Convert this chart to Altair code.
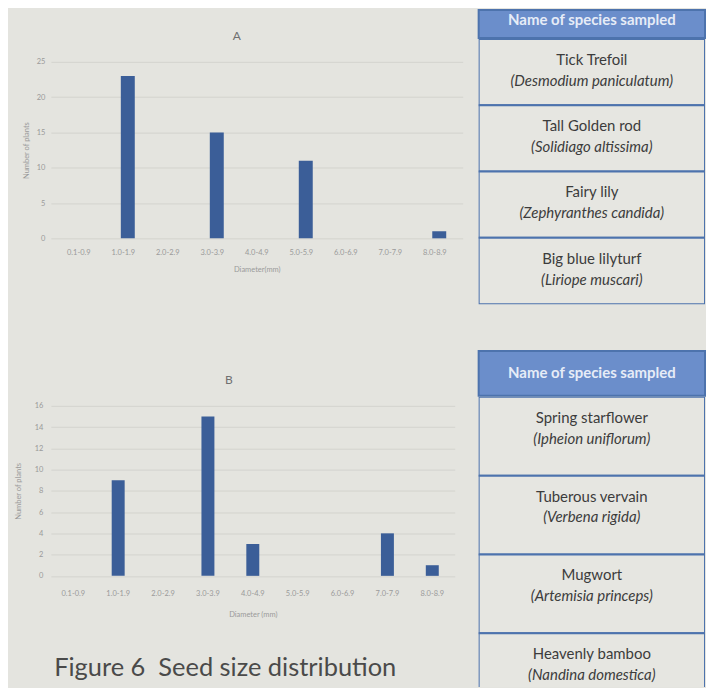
import altair as alt
import pandas as pd

# ---------------- data ----------------
bins = ["0.1-0.9", "1.0-1.9", "2.0-2.9", "3.0-3.9", "4.0-4.9",
        "5.0-5.9", "6.0-6.9", "7.0-7.9", "8.0-8.9"]
counts_a = [0, 23, 0, 15, 0, 11, 0, 0, 1]
counts_b = [0, 9, 0, 15, 3, 0, 0, 4, 1]
yticks_a = [0, 5, 10, 15, 20, 25]
yticks_b = [0, 2, 4, 6, 8, 10, 12, 14, 16]
title_a = "A"
title_b = "B"
xtitle_a = "Diameter(mm)"
xtitle_b = "Diameter (mm)"
ytitle = "Number of plants"
header = "Name of species sampled"
common_a = ["Tick Trefoil", "Tall Golden rod", "Fairy lily", "Big blue lilyturf"]
sci_a = ["(Desmodium paniculatum)", "(Solidiago altissima)",
         "(Zephyranthes candida)", "(Liriope muscari)"]
common_b = ["Spring starflower", "Tuberous vervain", "Mugwort", "Heavenly bamboo"]
sci_b = ["(Ipheion uniflorum)", "(Verbena rigida)",
         "(Artemisia princeps)", "(Nandina domestica)"]
caption = "Figure 6\u00a0 Seed size distribution"

# ---------------- style ----------------
BG = "#e4e4df"
BAR = "#3b5e98"
HEAD = "#6b8ecb"
BORDER = "#4d73ad"
CELL = "#e6e6e1"
AXIS_TXT = "#9a9a9a"
GRID = "#d3d3ce"
TITLE_C = "#707070"
FONT = "Lato"
TW = 227


def bar_chart(counts, yticks, title, xtitle, width, height, pad_outer,
              bar_size, bar_shift, y_lab_pad, y_title_pad, x_lab_pad, x_title_pad):
    df = pd.DataFrame({"bin": bins, "count": counts})
    ch = alt.Chart(df).mark_bar(color=BAR, size=bar_size, xOffset=bar_shift).encode(
        x=alt.X("bin:N", sort=bins,
                scale=alt.Scale(paddingInner=0, paddingOuter=pad_outer),
                axis=alt.Axis(title=xtitle, labelAngle=0, labelFontSize=7.5,
                              labelColor=AXIS_TXT, labelPadding=x_lab_pad,
                              domain=False, ticks=False, grid=False,
                              titleFontSize=7.5, titleColor=AXIS_TXT,
                              titleFontWeight="normal", titlePadding=x_title_pad,
                              labelFont=FONT, titleFont=FONT)),
        y=alt.Y("count:Q",
                scale=alt.Scale(domain=[yticks[0], yticks[-1]], nice=False),
                axis=alt.Axis(title=ytitle, values=yticks, labelFontSize=7.5,
                              labelColor=AXIS_TXT, labelPadding=y_lab_pad,
                              domain=False, ticks=False, grid=True,
                              gridColor=GRID, gridWidth=1,
                              titleFontSize=7.5, titleColor=AXIS_TXT,
                              titleFontWeight="normal", titlePadding=y_title_pad,
                              labelFont=FONT, titleFont=FONT)),
    ).properties(width=width, height=height)
    if title:
        ch = ch.properties(title=alt.TitleParams(
            title, fontSize=12, color=TITLE_C, fontWeight="normal", font=FONT,
            offset=15, dx=-24))
    return ch


# title "A" as its own small text panel, so the left column starts at its top
title_a_panel = alt.Chart(pd.DataFrame({"t": [title_a]})).mark_text(
    fontSize=12, color=TITLE_C, font=FONT, dx=-20, dy=6
).encode(text="t:N").properties(width=413, height=40)

chart_a = bar_chart(counts_a, yticks_a, None, xtitle_a, 413, 177, 0.128,
                    14, 4.5, 6, 6, 10, 10)
chart_b = bar_chart(counts_b, yticks_b, title_b, xtitle_b, 405, 170.5, 0.0,
                    13, 0, 8, 12, 14, 13.5)

left = alt.vconcat(
    alt.vconcat(title_a_panel, chart_a, spacing=8),
    chart_b, spacing=101,
    title=alt.TitleParams(caption, orient="bottom", anchor="start",
                          fontSize=25.5, color="#4a4a4a", fontWeight="normal",
                          font=FONT, offset=38, dx=40),
)


def table_header(h, dy):
    df = pd.DataFrame({"label": [header]})
    base = alt.Chart(df)
    rect = base.mark_rect(fill=HEAD, stroke=BORDER, strokeWidth=2).encode(
        y=alt.Y("label:N", axis=None))
    txt = base.mark_text(color="#e6ecf7", fontSize=15, fontWeight="bold",
                         font=FONT, dy=dy).encode(
        y=alt.Y("label:N", axis=None), text="label:N")
    return alt.layer(rect, txt).properties(width=TW, height=h)


def table_body(common, sci, height, rows_visible):
    df = pd.DataFrame({"row": list(range(len(common))), "common": common, "sci": sci})
    base = alt.Chart(df).transform_calculate(row_end="datum.row + 1")
    ys = alt.Scale(domain=[0, rows_visible], reverse=True, nice=False, zero=False)
    rect = base.mark_rect(fill=CELL, stroke=BORDER, strokeWidth=2, clip=True).encode(
        y=alt.Y("row:Q", scale=ys, axis=None), y2="row_end:Q")
    t1 = base.mark_text(color="#3c3c3c", fontSize=15, font=FONT, dy=21,
                        baseline="middle", clip=True).encode(
        y=alt.Y("row:Q", scale=ys, axis=None), text="common:N")
    t2 = base.mark_text(color="#3c3c3c", fontSize=15, font=FONT, dy=42,
                        fontStyle="italic", baseline="middle", clip=True).encode(
        y=alt.Y("row:Q", scale=ys, axis=None), text="sci:N")
    return alt.layer(rect, t1, t2).properties(width=TW, height=height)


table_a = alt.vconcat(table_header(28, -4), table_body(common_a, sci_a, 266, 4), spacing=0)
table_b = alt.vconcat(table_header(45, 0), table_body(common_b, sci_b, 291, 291 / 79), spacing=0)
right = alt.vconcat(table_a, table_b, spacing=46)

chart = alt.hconcat(left, right, spacing=15).properties(
    background=BG,
    padding={"left": 6, "top": 0, "right": 0, "bottom": 0},
).configure_view(stroke=None)

chart.save("out.html", embed_options={"renderer": "svg", "actions": False})
